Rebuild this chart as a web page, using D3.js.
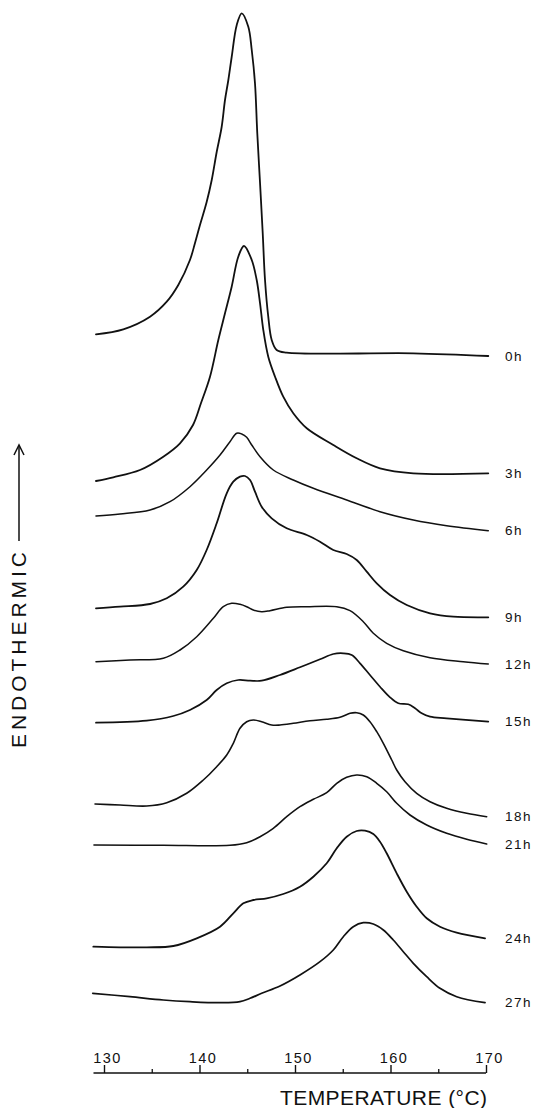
<!DOCTYPE html>
<html><head><meta charset="utf-8">
<script src="https://cdn.jsdelivr.net/npm/d3@7"></script>
<style>
html,body{margin:0;padding:0;background:#fff;}
svg{display:block;}
text{font-family:"Liberation Sans","DejaVu Sans",sans-serif;fill:#111;}
</style></head>
<body>
<script>
// Annealing times (curve labels)
const labels = ["0h","3h","6h","9h","12h","15h","18h","21h","24h","27h"];
// Temperature (°C) and endothermic signal (arbitrary units, including vertical offset) for each curve
const t0h = [129.16,132.02,134.82,136.57,137.78,139.0,139.53,140.05,140.75,141.28,141.80,142.32,142.67,143.02,143.37,143.90,144.42,145.11,145.47,145.81,146.05,146.34,146.62,146.86,147.20,147.56,148.08,149.13,162.39,170.24];
const v0h = [74.57,75.07,76.33,77.83,79.5,82.0,83.7,85.5,87.8,90.0,92.8,95.3,98.0,100.0,102.3,105.5,106.67,105.33,103.0,99.67,94.67,89.67,84.67,80.0,76.33,74.0,73.0,72.73,72.67,72.4];
const t3h = [129.16,130.97,133.77,136.21,137.96,139.32,140.16,141.10,141.97,142.67,143.37,144.06,144.66,145.47,145.99,146.34,146.68,147.20,147.91,148.77,149.82,151.23,154.01,156.46,158.90,162.39,170.24];
const v3h = [59.9,60.27,61.0,62.33,63.67,65.5,67.7,70.33,74.0,76.67,79.33,82.33,83.4,82.0,80.0,77.67,75.0,72.33,70.33,68.33,66.67,65.17,63.5,62.17,61.17,60.67,60.67];
const t6h = [129.16,131.68,134.82,136.91,139.0,140.75,142.15,143.19,143.90,144.42,144.94,145.47,146.34,147.73,149.82,151.92,155.41,158.90,162.39,165.88,170.24];
const v6h = [56.4,56.6,57.0,57.83,59.33,61.0,62.5,63.83,64.67,64.6,64.27,63.5,62.33,61.0,60.0,59.17,58.0,56.83,56.0,55.43,54.93];
const t9h = [129.16,131.68,134.82,136.57,138.30,139.71,140.75,141.80,142.85,143.54,144.24,144.76,145.29,145.81,146.51,147.56,149.13,151.23,152.62,154.01,155.41,156.46,157.51,158.56,159.95,161.70,164.14,166.58,170.24];
const v9h = [47.17,47.33,47.6,48.17,49.33,51.0,53.0,55.67,58.67,59.83,60.33,60.4,60.0,58.83,57.33,56.17,55.17,54.5,53.83,53.0,52.6,52.0,50.83,49.67,48.5,47.5,46.67,46.33,46.27];
const t12h = [129.16,132.72,136.21,137.96,139.71,141.45,142.49,143.37,144.24,144.94,145.63,146.51,147.38,149.13,151.23,154.37,155.76,157.15,158.20,159.60,161.34,164.14,167.62,170.24];
const v12h = [41.83,42.0,42.17,43.0,44.33,46.17,47.33,47.67,47.57,47.33,47.0,46.83,46.93,47.27,47.33,47.33,46.93,45.83,44.67,43.67,42.93,42.23,41.83,41.6];
const t15h = [129.16,134.47,137.26,139.0,140.75,141.80,142.85,144.06,145.29,146.51,148.43,150.52,152.62,154.01,155.06,155.94,156.81,157.85,158.90,159.95,160.82,161.86,162.57,163.27,164.14,165.88,170.24];
const v15h = [35.73,35.93,36.4,37.0,38.0,39.0,39.67,40.0,39.93,39.93,40.5,41.27,42.07,42.6,42.67,42.5,41.67,40.5,39.33,38.27,37.67,37.57,37.17,36.67,36.33,36.17,35.83];
const t18h = [129.06,131.68,134.47,136.57,138.66,140.40,141.80,142.85,143.54,144.24,144.94,145.63,146.51,147.56,148.43,149.82,151.57,153.32,154.71,155.76,156.46,157.15,157.85,158.56,159.25,160.13,160.65,161.52,162.74,164.14,165.88,167.98,170.07];
const v18h = [27.6,27.5,27.4,27.73,28.67,30.0,31.33,32.5,33.67,35.17,35.83,36.0,35.83,35.5,35.5,35.67,35.93,36.07,36.27,36.67,36.73,36.5,35.83,34.83,33.67,32.0,31.0,29.83,28.67,27.83,27.17,26.67,26.33];
const t21h = [128.95,136.21,143.19,144.94,146.34,147.73,149.13,150.52,151.92,153.32,154.37,155.41,156.46,157.51,158.56,159.60,160.65,162.04,163.79,165.88,167.98,170.07];
const v21h = [23.5,23.47,23.47,23.73,24.33,25.17,26.33,27.33,28.07,28.73,29.67,30.27,30.5,30.33,29.67,28.83,27.67,26.5,25.5,24.67,24.07,23.6];
const t24h = [128.88,131.68,134.47,137.26,139.71,142.15,143.54,144.59,145.63,147.04,148.77,150.52,151.92,153.32,154.37,155.41,156.46,157.33,158.20,158.90,159.60,160.65,161.70,162.74,163.79,165.18,166.93,169.90];
const v24h = [13.33,13.27,13.27,13.4,14.17,15.33,16.67,17.67,18.0,18.17,18.6,19.33,20.33,21.67,23.17,24.33,24.9,24.93,24.6,23.83,22.67,20.67,18.83,17.33,16.17,15.33,14.73,14.17];
const t27h = [128.82,132.72,136.21,139.0,142.15,144.24,145.29,146.51,148.43,150.52,152.62,154.01,155.06,156.10,157.15,158.20,159.25,160.29,161.34,162.39,163.79,165.18,166.93,169.90];
const v27h = [8.67,8.33,8.0,7.83,7.73,7.83,8.17,8.67,9.4,10.5,11.83,13.0,14.33,15.33,15.73,15.6,15.0,14.0,12.83,11.67,10.33,9.17,8.33,7.73];
const majorTicks = [130,140,150,160,170];
const minorTicks = [135,145,155,165];
const xTitle = "TEMPERATURE (°C)";
const yTitle = "ENDOTHERMIC";

const temps = [t0h,t3h,t6h,t9h,t12h,t15h,t18h,t21h,t24h,t27h];
const vals = [v0h,v3h,v6h,v9h,v12h,v15h,v18h,v21h,v24h,v27h];
const widths = [1.8,1.8,1.5,1.8,1.5,1.7,1.6,1.6,1.8,1.7];

const W = 533, H = 1108;
const svg = d3.select("body").append("svg").attr("width", W).attr("height", H);

const x = d3.scaleLinear().domain([130,170]).range([104,486]);
const y = d3.scaleLinear().domain([0,108]).range([1080,0]);

const line = d3.line().x(d => x(d[0])).y(d => y(d[1])).curve(d3.curveCatmullRom.alpha(0.5));

temps.forEach((ts, i) => {
  const pts = ts.map((t, j) => [t, vals[i][j]]);
  svg.append("path").datum(pts)
    .attr("d", line)
    .attr("fill", "none")
    .attr("stroke", "#111")
    .attr("stroke-width", widths[i])
    .attr("stroke-linejoin", "round")
    .attr("stroke-linecap", "round");
  const last = pts[pts.length - 1];
  svg.append("text")
    .attr("x", 505)
    .attr("y", y(last[1]))
    .attr("dy", "0.35em")
    .attr("font-size", 13.5)
    .attr("letter-spacing", "1.5px")
    .text(labels[i]);
});

// X axis
const axisY = 1073;
svg.append("line")
  .attr("x1", x(128.9)).attr("x2", x(170))
  .attr("y1", axisY).attr("y2", axisY)
  .attr("stroke", "#111").attr("stroke-width", 1.6);

const gMaj = svg.append("g").attr("transform", `translate(0,${axisY})`)
  .call(d3.axisTop(x).tickValues(majorTicks).tickSize(8).tickSizeOuter(0).tickPadding(2).tickFormat(d3.format("d")));
gMaj.select(".domain").remove();
gMaj.selectAll(".tick line").attr("stroke", "#111").attr("stroke-width", 1.4);
gMaj.selectAll(".tick text")
  .attr("font-size", 14.5)
  .attr("letter-spacing", "1.5px")
  .attr("dx", 3)
  .attr("fill", "#111")
  .style("font-family", '"Liberation Sans","DejaVu Sans",sans-serif');

const gMin = svg.append("g").attr("transform", `translate(0,${axisY})`)
  .call(d3.axisTop(x).tickValues(minorTicks).tickSize(4).tickSizeOuter(0).tickFormat(""));
gMin.select(".domain").remove();
gMin.selectAll(".tick line").attr("stroke", "#111").attr("stroke-width", 1.3);

svg.append("text")
  .attr("x", 280).attr("y", 1105)
  .attr("font-size", 21)
  .attr("textLength", 207)
  .attr("lengthAdjust", "spacing")
  .text(xTitle);

// Y title with arrow
svg.append("text")
  .attr("transform", "translate(26,748) rotate(-90)")
  .attr("font-size", 21)
  .attr("textLength", 196)
  .attr("lengthAdjust", "spacing")
  .text(yTitle);
svg.append("line")
  .attr("x1", 19).attr("x2", 19).attr("y1", 541).attr("y2", 446)
  .attr("stroke", "#111").attr("stroke-width", 1.5);
svg.append("path")
  .attr("d", "M14,455 L19,445 L24,455")
  .attr("fill", "none").attr("stroke", "#111").attr("stroke-width", 1.5);
</script>
</body></html>
